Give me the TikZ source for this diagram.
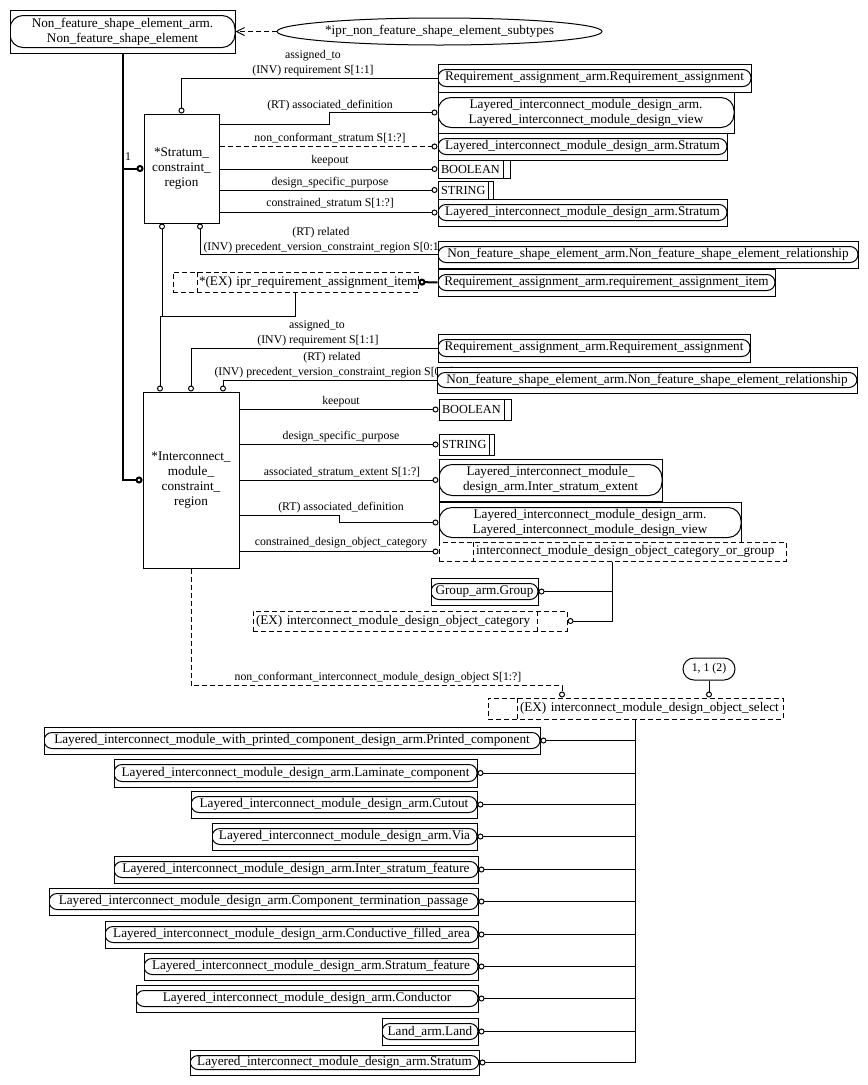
\documentclass[tikz,border=0pt]{standalone}
\usepackage{fontspec}
\setmainfont{Liberation Serif}
\usetikzlibrary{arrows.meta,shapes.geometric}
\newcommand\boxfont{\fontsize{13.2}{15}\selectfont}
\newcommand\labfont{\fontsize{11.8}{15}\selectfont}
\newcommand\dtfont{\fontsize{12.3}{15}\selectfont}
\begin{document}
\begin{tikzpicture}[x=1pt,y=-1pt,line width=1pt,
  ci/.style={-{Circle[open,length=6pt,width=6pt]}},
  cithk/.style={line width=2pt,-{Circle[open,length=7pt,width=7pt]}},
  cibthk/.style={line width=2pt,{Circle[open,length=7pt,width=7pt]}-},
  dsh/.style={dash pattern=on 5pt off 3pt},
  lab/.style={font=\labfont,inner sep=0pt,text height=8.5pt,text depth=2.5pt},
  ent/.style={draw,fill=white,inner sep=0pt,align=center,font=\boxfont,
    path picture={\draw[line width=1pt,rounded corners=8pt]
      ([yshift=5.5pt]path picture bounding box.south west) rectangle
      ([yshift=-5.5pt]path picture bounding box.north east);}},
  entw/.style={draw,fill=white,inner sep=0pt,align=center,font=\boxfont,
    path picture={\draw[line width=1pt,rounded corners=13pt]
      ([yshift=5.5pt]path picture bounding box.south west) rectangle
      ([yshift=-5.5pt]path picture bounding box.north east);}},
  dtype/.style={draw,fill=white,inner xsep=3pt,inner ysep=0pt,align=left,font=\dtfont,
    path picture={\draw[line width=1pt]
      ([xshift=-#1]path picture bounding box.north east) --
      ([xshift=-#1]path picture bounding box.south east);}},
  selL/.style={draw,dsh,fill=white,inner xsep=3pt,inner ysep=0pt,align=left,font=\boxfont,
    path picture={\draw[line width=1pt,dsh]
      ([xshift=#1]path picture bounding box.north west) --
      ([xshift=#1]path picture bounding box.south west);}},
  selR/.style={draw,dsh,fill=white,inner xsep=3pt,inner ysep=0pt,align=left,font=\boxfont,
    path picture={\draw[line width=1pt,dsh]
      ([xshift=-#1]path picture bounding box.north east) --
      ([xshift=-#1]path picture bounding box.south east);}},
  plain/.style={draw,fill=white,inner sep=0pt,align=center,font=\boxfont}
]
\fill[white] (0,0) rectangle (868,1085);
\useasboundingbox (0,0) rectangle (868,1085);

% ---------- labels ----------
\node[lab] (l1a) at (313,55) {assigned\_to};
\node[lab] (l1b) at (313,70) {(INV) requirement S[1:1]};
\node[lab] (l2) at (330,105) {(RT) associated\_definition};
\node[lab] (l3) at (330,138) {non\_conformant\_stratum S[1:?]};
\node[lab] (l4) at (330,160) {keepout};
\node[lab] (l5) at (330,182) {design\_specific\_purpose};
\node[lab] (l6) at (330,203) {constrained\_stratum S[1:?]};
\node[lab] (l7a) at (321,232) {(RT) related};
\node[lab,anchor=west] (l7b) at (203,247) {(INV) precedent\_version\_constraint\_region S[0:1]};
\node[lab] (lone) at (128,157) {1};
\node[lab] (m1a) at (317,325) {assigned\_to};
\node[lab] (m1b) at (318,340) {(INV) requirement S[1:1]};
\node[lab] (m2a) at (332,357) {(RT) related};
\node[lab,anchor=west] (m2b) at (214,372) {(INV) precedent\_version\_constraint\_region S[0:1]};
\node[lab] (m3) at (341,401) {keepout};
\node[lab] (m4) at (341,436) {design\_specific\_purpose};
\node[lab] (m5) at (342,472) {associated\_stratum\_extent S[1:?]};
\node[lab] (m6) at (341,507) {(RT) associated\_definition};
\node[lab] (m7) at (341,542) {constrained\_design\_object\_category};
\node[lab] (m8) at (378,677) {non\_conformant\_interconnect\_module\_design\_object S[1:?]};

% ---------- top ----------
\node[entw,minimum width=225pt,minimum height=43pt] (nfse) at (122.5,31.5)
  {Non\_feature\_shape\_element\_arm.\\Non\_feature\_shape\_element};
\node[draw,ellipse,minimum width=325pt,minimum height=27pt,inner sep=0pt,font=\boxfont] (iprsub) at (439.5,31.5)
  {*ipr\_non\_feature\_shape\_element\_subtypes};

% ---------- stratum constraint region ----------
\node[plain,minimum width=75pt,minimum height=109pt] (stratum) at (181.5,168.5)
  {*Stratum\_\\constraint\_\\region};
\node[ent,minimum width=313pt,minimum height=28pt] (reqA1) at (594.5,78)
  {Requirement\_assignment\_arm.Requirement\_assignment};
\node[entw,minimum width=296pt,minimum height=41pt] (limdv1) at (586,112.5)
  {Layered\_interconnect\_module\_design\_arm.\\Layered\_interconnect\_module\_design\_view};
\node[ent,minimum width=289pt,minimum height=27pt] (strat1) at (582.5,146.5)
  {Layered\_interconnect\_module\_design\_arm.Stratum};
\node[dtype=7pt,text width=66pt,minimum height=18pt] (bool1) at (474,169) {BOOLEAN};
\node[dtype=5pt,text width=49pt,minimum height=18pt] (str1) at (465.5,190) {STRING};
\node[ent,minimum width=289pt,minimum height=27pt] (strat2) at (582.5,212.5)
  {Layered\_interconnect\_module\_design\_arm.Stratum};
\node[ent,minimum width=420pt,minimum height=27pt] (nfser1) at (648,254.5)
  {Non\_feature\_shape\_element\_arm.Non\_feature\_shape\_element\_relationship};
\node[selL=24pt,inner xsep=2pt,text width=241pt,minimum height=20pt] (iprreq) at (295.5,282)
  {\mbox{\hspace*{24pt}*(EX) ipr\_requirement\_assignment\_item}};
\node[ent,minimum width=337pt,minimum height=27pt] (reqitem) at (606.5,282.5)
  {Requirement\_assignment\_arm.requirement\_assignment\_item};

% ---------- interconnect module constraint region ----------
\node[plain,minimum width=96pt,minimum height=176pt] (imcr) at (191,480)
  {*Interconnect\_\\module\_\\constraint\_\\region};
\node[ent,minimum width=312pt,minimum height=28pt] (reqA2) at (594,348)
  {Requirement\_assignment\_arm.Requirement\_assignment};
\node[ent,minimum width=420pt,minimum height=26pt] (nfser2) at (647,380)
  {Non\_feature\_shape\_element\_arm.Non\_feature\_shape\_element\_relationship};
\node[dtype=7pt,text width=66pt,minimum height=21pt] (bool2) at (475,409.5) {BOOLEAN};
\node[dtype=5pt,text width=49pt,minimum height=21pt] (str2) at (466.5,444.5) {STRING};
\node[entw,minimum width=223pt,minimum height=42pt] (ise) at (550.5,480)
  {Layered\_interconnect\_module\_\\design\_arm.Inter\_stratum\_extent};
\node[entw,minimum width=302pt,minimum height=41pt] (limdv2) at (590,522.5)
  {Layered\_interconnect\_module\_design\_arm.\\Layered\_interconnect\_module\_design\_view};
\node[selL=34pt,text width=341pt,minimum height=19pt] (orgroup) at (612.5,551.5)
  {\mbox{\hspace*{34pt}interconnect\_module\_design\_object\_category\_or\_group}};
\node[ent,minimum width=107pt,minimum height=27pt] (group) at (484.5,591.5) {Group\_arm.Group};
\node[selR=30pt,text width=308pt,minimum height=20pt] (excat) at (410,621)
  {(EX) interconnect\_module\_design\_object\_category};
\node[draw,fill=white,rounded corners=11pt,minimum width=52pt,minimum height=22pt,inner sep=0pt,font=\labfont] (oneone) at (709,669) {1, 1 (2)};
\node[selL=29pt,text width=289pt,minimum height=21pt] (select) at (635.5,708.5)
  {\mbox{\hspace*{29pt}(EX) interconnect\_module\_design\_object\_select}};

% ---------- select members ----------
\node[ent,minimum width=496pt,minimum height=27pt] (b1) at (292,740.5)
  {Layered\_interconnect\_module\_with\_printed\_component\_design\_arm.Printed\_component};
\node[ent,minimum width=363pt,minimum height=28pt] (b2) at (295.5,773)
  {Layered\_interconnect\_module\_design\_arm.Laminate\_component};
\node[ent,minimum width=286pt,minimum height=27pt] (b3) at (334,804.5)
  {Layered\_interconnect\_module\_design\_arm.Cutout};
\node[ent,minimum width=265pt,minimum height=27pt] (b4) at (344.5,836.5)
  {Layered\_interconnect\_module\_design\_arm.Via};
\node[ent,minimum width=364pt,minimum height=27pt] (b5) at (296,869.5)
  {Layered\_interconnect\_module\_design\_arm.Inter\_stratum\_feature};
\node[ent,minimum width=429pt,minimum height=27pt] (b6) at (263.5,901.5)
  {Layered\_interconnect\_module\_design\_arm.Component\_termination\_passage};
\node[ent,minimum width=373pt,minimum height=27pt] (b7) at (291.5,934.5)
  {Layered\_interconnect\_module\_design\_arm.Conductive\_filled\_area};
\node[ent,minimum width=334pt,minimum height=27pt] (b8) at (311,966.5)
  {Layered\_interconnect\_module\_design\_arm.Stratum\_feature};
\node[ent,minimum width=342pt,minimum height=27pt] (b9) at (307,998.5)
  {Layered\_interconnect\_module\_design\_arm.Conductor};
\node[ent,minimum width=96pt,minimum height=27pt] (b10) at (430,1031.5) {Land\_arm.Land};
\node[ent,minimum width=289pt,minimum height=25pt] (b11) at (334.5,1062.5)
  {Layered\_interconnect\_module\_design\_arm.Stratum};

% ---------- helper coordinates ----------
\coordinate (s1) at (329,124);
\coordinate (s2) at (339,515);
\coordinate (j1) at (162,316);
\coordinate (j2) at (160,316);

% ---------- connectors ----------
\draw[dsh,-{Straight Barb[length=8pt,width=8pt]}] (iprsub.west) -- (nfse.east);
\draw[cithk] (nfse.south) |- (stratum.west);
\draw[cithk] (nfse.south) |- (imcr.west);

\draw[ci] (reqA1.west) -| (stratum.north);
\draw[ci] ([yshift=44.5pt]stratum.east) -- (s1) |- (limdv1.west);
\draw[dsh,ci] (stratum.east |- strat1.west) -- (strat1.west);
\draw[ci] (stratum.east |- bool1.west) -- (bool1.west);
\draw[ci] (stratum.east |- str1.west) -- (str1.west);
\draw[ci] (stratum.east |- strat2.west) -- (strat2.west);
\draw[ci] (nfser1.west) -| ([xshift=18.5pt]stratum.south);
\draw[ci] (j1) -- ([xshift=-19.5pt]stratum.south);
\draw[ci] (iprreq.south) |- (j2) -- ([xshift=-31pt]imcr.north);
\draw[cibthk] (iprreq.east) -- (reqitem.west);

\draw[ci] (reqA2.west) -| (imcr.north);
\draw[ci] (nfser2.west) -| ([xshift=32pt]imcr.north);
\draw[ci] (imcr.east |- bool2.west) -- (bool2.west);
\draw[ci] (imcr.east |- str2.west) -- (str2.west);
\draw[ci] (imcr.east |- ise.west) -- (ise.west);
\draw[ci] ([yshift=-35pt]imcr.east) -- (s2) |- (limdv2.west);
\draw[ci] (imcr.east |- orgroup.west) -- (orgroup.west);
\draw[ci] (orgroup.south) |- (group.east);
\draw[ci] (orgroup.south) |- (excat.east);
\draw[dsh,ci] (imcr.south) -- ++(0,117) -| ([xshift=-73.5pt]select.north);
\draw[ci] (oneone.south) -- ([xshift=73.5pt]select.north);
\foreach \b in {b1,b2,b3,b4,b5,b6,b7,b8,b9,b10,b11}
  \draw[ci] (select.south) |- (\b.east);
\end{tikzpicture}
\end{document}
